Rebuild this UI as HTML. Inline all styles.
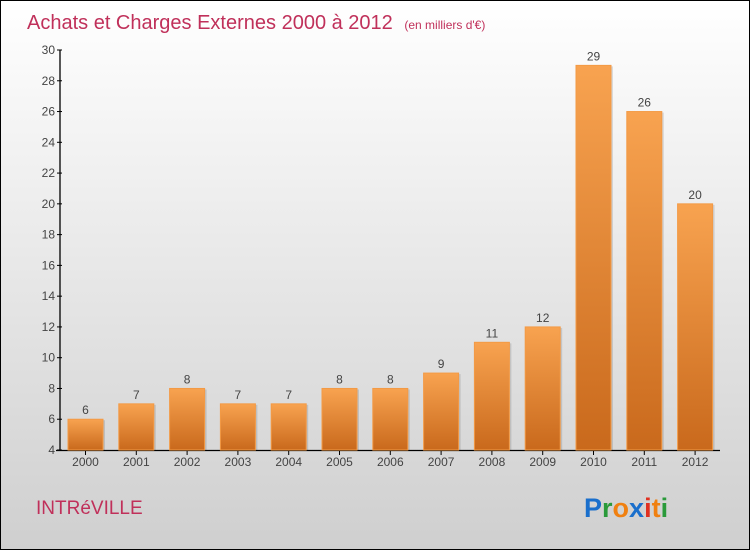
<!DOCTYPE html>
<html><head><meta charset="utf-8"><style>
body{margin:0;}
#c{width:748px;height:548px;border:1px solid #000;background:linear-gradient(#ffffff,#cfcfcf);position:relative;font-family:"Liberation Sans",sans-serif;overflow:hidden}
</style></head><body>
<div id="c">
<svg width="748" height="548">
<defs><linearGradient id="bg" x1="0" y1="0" x2="0" y2="1"><stop offset="0" stop-color="#f8a350"/><stop offset="1" stop-color="#c9691c"/></linearGradient></defs>
<text x="26" y="28" font-size="20" fill="#c0305a">Achats et Charges Externes 2000 à 2012 <tspan font-size="12" dx="6">(en milliers d'€)</tspan></text>
<g id="axes"></g><g id="bars"></g>
<text x="35" y="513" font-size="19" fill="#c0305a">INTRéVILLE</text>
<text x="583" y="516" font-size="27" font-weight="bold"><tspan fill="#1a6fcc">P</tspan><tspan fill="#2a9a3a">r</tspan><tspan fill="#f08010">o</tspan><tspan fill="#1a6fcc">x</tspan><tspan fill="#e03020">i</tspan><tspan fill="#f08010">t</tspan><tspan fill="#2a9a3a">i</tspan></text>
</svg></div>
<script>
const years=["2000","2001","2002","2003","2004","2005","2006","2007","2008","2009","2010","2011","2012"];
const values=[6,7,8,7,7,8,8,9,11,12,29,26,20];
const yTicks=[4,6,8,10,12,14,16,18,20,22,24,26,28,30];
const NS="http://www.w3.org/2000/svg";
const y=v=>449-(v-4)*400/26, x=i=>84.5+i*50.8;
function mk(t,a,p,txt){const e=document.createElementNS(NS,t);for(const k in a)e.setAttribute(k,a[k]);if(txt!=null)e.textContent=txt;p.appendChild(e);return e;}
const ax=document.getElementById('axes'),bs=document.getElementById('bars');
let l=mk('line',{x1:59,y1:49,x2:59,y2:450,stroke:'#000','stroke-width':1.3},ax);

l=mk('line',{x1:55,y1:449.5,x2:719,y2:449.5,stroke:'#000','stroke-width':1.3},ax);

yTicks.forEach(v=>{mk('line',{x1:56,x2:61,y1:y(v),y2:y(v),stroke:'#000'},ax);
const t=mk('text',{x:54,y:y(v)+4,'font-size':12,fill:'#444','text-anchor':'end'},ax,v);
});
years.forEach((yr,i)=>{const v=values[i];
mk('rect',{x:x(i)-17.5+2,y:y(v)+1,width:35,height:449-y(v)-1,fill:'#000',opacity:0.12},bs);
const r=mk('rect',{x:x(i)-17.5,y:y(v),width:35,height:449-y(v),fill:'url(#bg)',stroke:'#f39a45','stroke-width':1},bs);

const t=mk('text',{x:x(i),y:y(v)-5,'font-size':12,fill:'#444','text-anchor':'middle'},bs,v);

mk('line',{x1:x(i),x2:x(i),y1:449,y2:454,stroke:'#000'},ax);
const xl=mk('text',{x:x(i),y:465,'font-size':12,fill:'#444','text-anchor':'middle'},ax,yr);
});
</script></body></html>
